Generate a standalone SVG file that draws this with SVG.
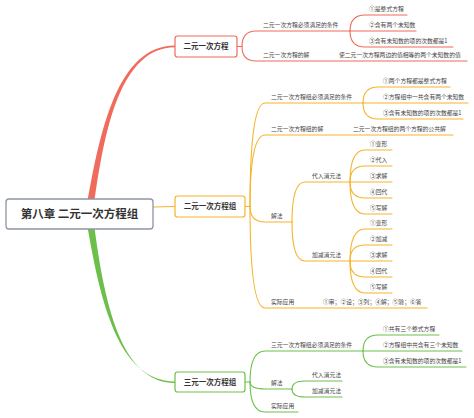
<svg xmlns="http://www.w3.org/2000/svg" width="474" height="418" viewBox="0 0 474 418">
<style>
  text { font-family: "Noto Sans CJK SC", "Noto Sans", sans-serif; fill: #444; }
  .t { font-size: 5.8px; }
  .n { font-size: 7.5px; font-weight: bold; fill: #333; text-anchor: middle; }
  .root { font-size: 11.5px; font-weight: bold; fill: #333; text-anchor: middle; }
  .r { stroke: #F06B5C; }
  .y { stroke: #F5B42A; }
  .g { stroke: #6CBF4A; }
  .ln { fill: none; stroke-width: 1.1; stroke-linecap: round; }
  .box { fill: #fff; stroke-width: 1.2; }
</style>
<rect width="474" height="418" fill="#fff"/>
<g id="connectors">
  <path d="M87,205 C100,130 118,45.6 175,45.6 L175,47.2 C120,47.2 104,132 94,205 Z" fill="#F06B5C"/>
  <path d="M87,224 C100,300 118,381.4 175,381.4 L175,383 C120,383 104,300 94,224 Z" fill="#6CBF4A"/>
  <path class="ln y" d="M153,207 L175,206.5" stroke-width="1.6"/>
  <g class="ln r">
    <path d="M237,46.5 H242"/>
    <path d="M242,46.5 Q242,31 256,31 H350"/>
    <path d="M242,46.5 Q242,61 256,61 H467"/>
    <path d="M350,31 Q350,15 365,15 H407"/>
    <path d="M350,31 H416"/>
    <path d="M350,31 Q350,47 365,47 H453"/>
  </g>
  <g class="ln y">
    <path d="M245,206.5 H250"/>
    <path d="M250,206.5 Q250,103 265,103 H363"/>
    <path d="M250,206.5 Q250,135 265,135 H453"/>
    <path d="M250,206.5 Q250,222 265,222 H292"/>
    <path d="M250,206.5 Q250,308 265,308 H427"/>
    <path d="M363,103 Q363,87 378,87 H450"/>
    <path d="M363,103 H468"/>
    <path d="M363,103 Q363,119 378,119 H463"/>
    <path d="M292,222 Q292,182 305,182 H350"/>
    <path d="M292,222 Q292,261 305,261 H350"/>
    <path d="M350,182 Q350,150 365,150 H392"/>
    <path d="M350,182 Q350,166 365,166 H392"/>
    <path d="M350,182 H392"/>
    <path d="M350,182 Q350,198 365,198 H392"/>
    <path d="M350,182 Q350,214 365,214 H392"/>
    <path d="M350,261 Q350,229 365,229 H392"/>
    <path d="M350,261 Q350,245 365,245 H392"/>
    <path d="M350,261 H392"/>
    <path d="M350,261 Q350,277 365,277 H392"/>
    <path d="M350,261 Q350,293 365,293 H392"/>
  </g>
  <g class="ln g">
    <path d="M245,382 H250"/>
    <path d="M250,382 Q250,351 265,351 H363"/>
    <path d="M250,382 Q250,389 265,389 H292"/>
    <path d="M250,382 Q250,412 265,412 H298"/>
    <path d="M363,351 Q363,335 378,335 H439"/>
    <path d="M363,351 H462"/>
    <path d="M363,351 Q363,367 378,367 H466"/>
    <path d="M292,389 Q292,381 305,381 H342"/>
    <path d="M292,389 Q292,397 305,397 H342"/>
  </g>
</g>
<g id="root">
  <rect x="6" y="199" width="147" height="30" rx="3" fill="#fff" stroke="#8E96A2" stroke-width="1.3"/>
  <text class="root" x="79.5" y="218.2">第八章 二元一次方程组</text>
</g>
<g id="node-eryuan">
  <rect class="box r" x="175" y="36" width="62" height="21" rx="2.5"/>
  <text class="n" x="206" y="49.3">二元一次方程</text>
</g>
<g id="node-eryuan-cond"><text class="t" x="263" y="27">二元一次方程必须满足的条件</text></g>
<g id="node-eryuan-c1"><text class="t" x="369" y="11">①是整式方程</text></g>
<g id="node-eryuan-c2"><text class="t" x="369" y="27">②含有两个未知数</text></g>
<g id="node-eryuan-c3"><text class="t" x="369" y="43">③含有未知数的项的次数都是1</text></g>
<g id="node-eryuan-sol"><text class="t" x="263" y="57">二元一次方程的解</text></g>
<g id="node-eryuan-sol1"><text class="t" x="339" y="57">使二元一次方程两边的值相等的两个未知数的值</text></g>

<g id="node-erzu">
  <rect class="box y" x="175" y="196" width="70" height="21" rx="2.5"/>
  <text class="n" x="210" y="209.3">二元一次方程组</text>
</g>
<g id="node-erzu-cond"><text class="t" x="271" y="99">二元一次方程组必须满足的条件</text></g>
<g id="node-erzu-c1"><text class="t" x="383" y="83">①两个方程都是整式方程</text></g>
<g id="node-erzu-c2"><text class="t" x="383" y="99">②方程组中一共含有两个未知数</text></g>
<g id="node-erzu-c3"><text class="t" x="383" y="115">③含有未知数的项的次数都是1</text></g>
<g id="node-erzu-sol"><text class="t" x="271" y="131">二元一次方程组的解</text></g>
<g id="node-erzu-sol1"><text class="t" x="353" y="131">二元一次方程组的两个方程的公共解</text></g>
<g id="node-erzu-jiefa"><text class="t" x="271" y="218">解法</text></g>
<g id="node-erzu-dairu"><text class="t" x="312" y="178">代入消元法</text></g>
<g id="node-erzu-dairu-1"><text class="t" x="370" y="146">①变形</text></g>
<g id="node-erzu-dairu-2"><text class="t" x="370" y="162">②代入</text></g>
<g id="node-erzu-dairu-3"><text class="t" x="370" y="178">③求解</text></g>
<g id="node-erzu-dairu-4"><text class="t" x="370" y="194">④回代</text></g>
<g id="node-erzu-dairu-5"><text class="t" x="370" y="210">⑤写解</text></g>
<g id="node-erzu-jiajian"><text class="t" x="312" y="257">加减消元法</text></g>
<g id="node-erzu-jiajian-1"><text class="t" x="370" y="225">①变形</text></g>
<g id="node-erzu-jiajian-2"><text class="t" x="370" y="241">②加减</text></g>
<g id="node-erzu-jiajian-3"><text class="t" x="370" y="257">③求解</text></g>
<g id="node-erzu-jiajian-4"><text class="t" x="370" y="273">④回代</text></g>
<g id="node-erzu-jiajian-5"><text class="t" x="370" y="289">⑤写解</text></g>
<g id="node-erzu-app"><text class="t" x="271" y="304">实际应用</text></g>
<g id="node-erzu-app1"><text class="t" x="323" y="304">①审；②设；③列；④解；⑤验；⑥答</text></g>

<g id="node-sanzu">
  <rect class="box g" x="175" y="372" width="70" height="20" rx="2.5"/>
  <text class="n" x="210" y="384.8">三元一次方程组</text>
</g>
<g id="node-sanzu-cond"><text class="t" x="271" y="347">三元一次方程组必须满足的条件</text></g>
<g id="node-sanzu-c1"><text class="t" x="383" y="331">①共有三个整式方程</text></g>
<g id="node-sanzu-c2"><text class="t" x="383" y="347">②方程组中共含有三个未知数</text></g>
<g id="node-sanzu-c3"><text class="t" x="383" y="363">③含有未知数的项的次数都是1</text></g>
<g id="node-sanzu-jiefa"><text class="t" x="271" y="385">解法</text></g>
<g id="node-sanzu-dairu"><text class="t" x="312" y="377">代入消元法</text></g>
<g id="node-sanzu-jiajian"><text class="t" x="312" y="393">加减消元法</text></g>
<g id="node-sanzu-app"><text class="t" x="271" y="408">实际应用</text></g>
</svg>
